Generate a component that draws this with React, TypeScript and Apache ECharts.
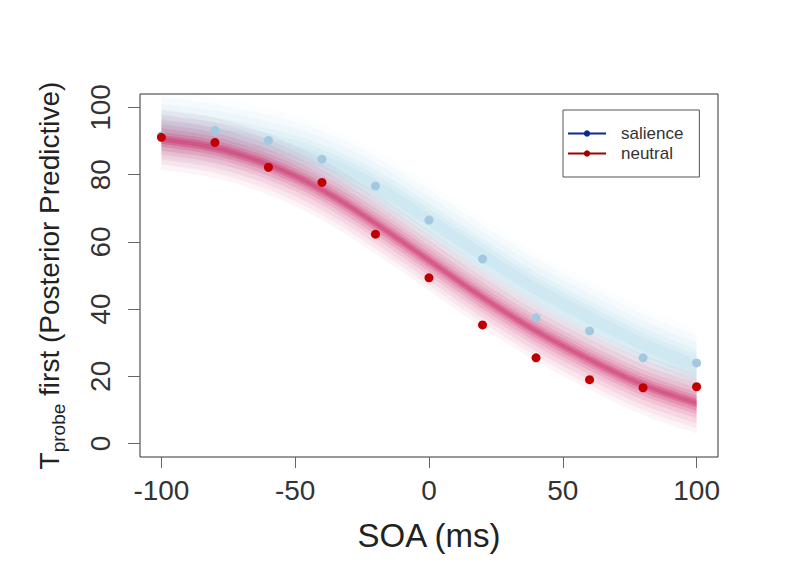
import React, { useEffect, useRef } from "react";
import * as echarts from "echarts";

const soa = [-100, -80, -60, -40, -20, 0, 20, 40, 60, 80, 100];
const salienceObs = [91.5, 93.2, 90.2, 84.6, 76.6, 66.5, 54.9, 37.4, 33.5, 25.5, 24];
const neutralObs = [91.1, 89.6, 82.2, 77.7, 62.3, 49.3, 35.3, 25.5, 19, 16.6, 16.9];
const salienceFit = [94, 92, 88.8, 84, 76.5, 66.5, 56, 46, 37.5, 29.5, 23];
const neutralFit = [90.5, 88, 83, 75.5, 65.5, 54.5, 43.5, 33.5, 25, 17.5, 12];
const salienceBandHalfWidths = [11, 9, 7, 5, 3.5, 2];
const salienceBandAlphas = [0.04, 0.06, 0.08, 0.1, 0.12, 0.14];
const neutralBandHalfWidths = [9, 7.5, 6, 4.5, 3.3, 2.2, 1.3, 0.6];
const neutralBandAlphas = [0.05, 0.06, 0.08, 0.1, 0.13, 0.18, 0.28, 0.28];
const xTicks = [-100, -50, 0, 50, 100];
const yTicks = [0, 20, 40, 60, 80, 100];

const FONT = "'Liberation Sans', Arial, Helvetica, sans-serif";

// Catmull-Rom smoothing of screen points into cubic Bezier path commands
function smoothSegs(pts: number[][]): string {
  let d = "";
  for (let i = 0; i < pts.length - 1; i++) {
    const p0 = pts[Math.max(i - 1, 0)];
    const p1 = pts[i];
    const p2 = pts[i + 1];
    const p3 = pts[Math.min(i + 2, pts.length - 1)];
    const c1x = p1[0] + (p2[0] - p0[0]) / 6;
    const c1y = p1[1] + (p2[1] - p0[1]) / 6;
    const c2x = p2[0] - (p3[0] - p1[0]) / 6;
    const c2y = p2[1] - (p3[1] - p1[1]) / 6;
    d += ` C ${c1x} ${c1y} ${c2x} ${c2y} ${p2[0]} ${p2[1]}`;
  }
  return d;
}

function bandSeries(center: number[], widths: number[], alphas: number[], rgb: string) {
  return {
    type: "custom",
    silent: true,
    clip: true,
    z: 1,
    data: widths.map((w, i) => [alphas[i], w]),
    renderItem: (params: any, api: any) => {
      const a = api.value(0);
      const w = api.value(1);
      const upper = soa.map((x, j) => api.coord([x, center[j] + w]));
      const lower = soa.map((x, j) => api.coord([x, center[j] - w])).reverse();
      let d = `M ${upper[0][0]} ${upper[0][1]}` + smoothSegs(upper);
      d += ` L ${lower[0][0]} ${lower[0][1]}` + smoothSegs(lower) + " Z";
      return {
        type: "path",
        shape: { pathData: d },
        style: { fill: `rgba(${rgb},${a})`, stroke: "none" },
      };
    },
  };
}

export default function App() {
  const ref = useRef<HTMLDivElement>(null);
  useEffect(() => {
    if (!ref.current) return;
    const chart = echarts.init(ref.current, undefined, { renderer: "svg" });
    chart.setOption({
      animation: false,
      backgroundColor: "#ffffff",
      textStyle: { fontFamily: FONT },
      grid: {
        left: 140,
        right: 71,
        top: 94,
        bottom: 127,
        show: true,
        borderColor: "#333",
        borderWidth: 1,
        backgroundColor: "transparent",
      },
      legend: {
        data: ["salience", "neutral"],
        orient: "vertical",
        left: 563,
        top: 110,
        padding: [15, 16, 15, 4],
        itemGap: 3,
        itemWidth: 38,
        itemHeight: 8,
        borderColor: "#555",
        borderWidth: 1,
        borderRadius: 0,
        backgroundColor: "#fff",
        textStyle: { fontSize: 17, color: "#333", fontFamily: FONT, padding: [0, 0, 0, 10] },
      },
      xAxis: {
        type: "value",
        min: -108,
        max: 108,
        splitLine: { show: false },
        axisLine: { show: false, onZero: false },
        axisTick: {
          show: true,
          length: 11,
          lineStyle: { color: "#666" },
          customValues: xTicks,
        },
        axisLabel: {
          customValues: xTicks,
          fontSize: 28,
          color: "#333",
          margin: 19,
          fontFamily: FONT,
        },
        name: "SOA (ms)",
        nameLocation: "middle",
        nameGap: 62,
        nameTextStyle: { fontSize: 33, color: "#222", fontFamily: FONT },
      },
      yAxis: {
        type: "value",
        min: -4,
        max: 104,
        splitLine: { show: false },
        axisLine: { show: false, onZero: false },
        axisTick: {
          show: true,
          length: 12,
          lineStyle: { color: "#666" },
          customValues: yTicks,
        },
        axisLabel: {
          customValues: yTicks,
          rotate: 90,
          fontSize: 28,
          color: "#333",
          margin: 26,
          fontFamily: FONT,
        },
        name: "{t|T}{s|probe}{t| first (Posterior Predictive)}",
        nameLocation: "middle",
        nameRotate: 90,
        nameGap: 72,
        nameTextStyle: {
          rich: {
            t: { fontSize: 28, color: "#222", fontFamily: FONT, lineHeight: 38, verticalAlign: "middle" },
            s: { fontSize: 19, color: "#222", fontFamily: FONT, lineHeight: 19, verticalAlign: "bottom" },
          },
        },
      },
      series: [
        bandSeries(salienceFit, salienceBandHalfWidths, salienceBandAlphas, "150,208,226"),
        bandSeries(neutralFit, neutralBandHalfWidths, neutralBandAlphas, "200,30,95"),
        {
          name: "salience",
          type: "line",
          data: [],
          symbol: "circle",
          symbolSize: 7,
          itemStyle: { color: "#0a2a96" },
          lineStyle: { color: "#0a2a96", width: 3 },
        },
        {
          name: "neutral",
          type: "line",
          data: [],
          symbol: "circle",
          symbolSize: 7,
          itemStyle: { color: "#a00000" },
          lineStyle: { color: "#a00000", width: 3 },
        },
        {
          name: "salience points",
          type: "scatter",
          symbolSize: 9,
          itemStyle: { color: "#a2c9e0", opacity: 1 },
          data: soa.map((x, i) => [x, salienceObs[i]]),
          z: 5,
        },
        {
          name: "neutral points",
          type: "scatter",
          symbolSize: 9,
          itemStyle: { color: "#c00000", opacity: 1 },
          data: soa.map((x, i) => [x, neutralObs[i]]),
          z: 6,
        },
      ],
    });
    return () => chart.dispose();
  }, []);
  return <div ref={ref} style={{ width: 789, height: 584, position: "absolute", left: 0, top: 0 }} />;
}
